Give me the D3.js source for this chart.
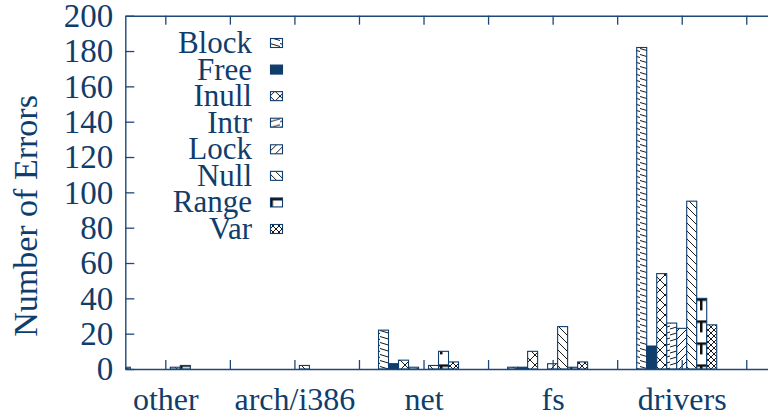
<!DOCTYPE html>
<html>
<head>
<meta charset="utf-8">
<script src="https://cdn.jsdelivr.net/npm/d3@7"></script>
<style>
  html, body { margin: 0; padding: 0; background: #fff; }
  svg { display: block; }
</style>
</head>
<body>
<svg id="chart" width="768" height="413"></svg>
<script>
// ---- data ----
const categories = ["other", "arch/i386", "net", "fs", "drivers"];
const seriesNames = ["Block", "Free", "Inull", "Intr", "Lock", "Null", "Range", "Var"];
const Block = [1, 0, 22, 1, 182];
const Free  = [0, 0, 3, 1, 13];
const Inull = [0, 0, 5, 10, 54];
const Intr  = [0, 0, 1, 0, 26];
const Lock  = [0, 0, 0, 3, 23];
const Null  = [1, 2, 2, 24, 95];
const Range = [2, 0, 10, 1, 40];
const Var   = [0, 0, 4, 4, 25];
const yTicks = [0, 20, 40, 60, 80, 100, 120, 140, 160, 180, 200];
const yTitle = "Number of Errors";

const seriesValues = { Block, Free, Inull, Intr, Lock, Null, Range, Var };

// ---- layout ----
const navy = "#0f3d6c";
const axisCol = "#1d4878";
const svg = d3.select("#chart");
const L = 125.3, T = 15.7, B = 369, R = 785;
const x = d3.scaleLinear().domain([-0.31, 4.8]).range([L, R]);
const xInner = d3.scaleBand().domain(seriesNames).range([-45, 35]);
const y = d3.scaleLinear().domain([0, 200]).range([B, T]);

// ---- patterns ----
const defs = svg.append("defs");
function pat(id, w, h, draw, extra) {
  const p = defs.append("pattern").attr("id", id)
    .attr("patternUnits", "userSpaceOnUse").attr("width", w).attr("height", h);
  if (extra) extra(p);
  p.append("rect").attr("width", w).attr("height", h).attr("fill", "#fff");
  draw(p);
}
const ln = (p, x1, y1, x2, y2, sw) => p.append("line")
  .attr("x1", x1).attr("y1", y1).attr("x2", x2).attr("y2", y2)
  .attr("stroke", "#1a1a1a").attr("stroke-width", sw || 1);

pat("p-Block", 10, 6, p => { ln(p, 0, 0.5, 10, 3.5); });
pat("p-Inull", 10, 10, p => { ln(p, 0, 0, 10, 10); ln(p, 0, 10, 10, 0); });
pat("p-Intr", 10, 6, p => { ln(p, 0, 5, 10, 2); });
pat("p-Lock", 8, 8, p => { ln(p, -1, 9, 9, -1); ln(p, -1, 1, 1, -1); ln(p, 7, 9, 9, 7); });
pat("p-Null", 8, 8, p => { ln(p, -1, -1, 9, 9); ln(p, 7, -1, 9, 1); ln(p, -1, 7, 1, 9); });
pat("p-Range", 10, 22, p => {
  p.append("rect").attr("x", 0).attr("y", 0).attr("width", 10).attr("height", 2.5).attr("fill", "#111");
  p.append("rect").attr("x", 0).attr("y", 0).attr("width", 2.5).attr("height", 12).attr("fill", "#111");
}, p => p.attr("patternTransform", "translate(0,298.4)"));
pat("p-Var", 6, 6, p => { ln(p, 0, 0, 6, 6); ln(p, 0, 6, 6, 0); });

// legend-only Range swatch (box with heavy top-left edges)
const pr = defs.append("pattern").attr("id", "p-Range-leg")
  .attr("patternUnits", "objectBoundingBox").attr("patternContentUnits", "objectBoundingBox")
  .attr("width", 1).attr("height", 1);
pr.append("rect").attr("width", 1).attr("height", 1).attr("fill", "#fff");
pr.append("rect").attr("width", 1).attr("height", 0.28).attr("fill", "#111");
pr.append("rect").attr("width", 0.2).attr("height", 1).attr("fill", "#111");

const fillFor = s => s === "Free" ? navy : `url(#p-${s})`;
const legFill = s => s === "Range" ? "url(#p-Range-leg)" : fillFor(s);

// ---- clip ----
defs.append("clipPath").attr("id", "plotclip")
  .append("rect").attr("x", L).attr("y", T).attr("width", R - L).attr("height", B - T);

// ---- bars ----
const barData = [];
categories.forEach((c, i) => {
  seriesNames.forEach(s => {
    barData.push({ i, s, v: seriesValues[s][i] });
  });
});
svg.append("g").attr("clip-path", "url(#plotclip)")
  .selectAll("rect").data(barData.filter(d => d.v > 0)).join("rect")
  .attr("x", d => x(d.i) + xInner(d.s))
  .attr("width", xInner.bandwidth())
  .attr("y", d => y(d.v))
  .attr("height", d => y(0) - y(d.v))
  .attr("fill", d => fillFor(d.s))
  .attr("stroke", navy).attr("stroke-width", 1.1);

// ---- axes ----
const halfTicks = d3.range(0, 4.51, 0.5);
const fontFam = "'Liberation Serif', 'Times New Roman', Times, serif";

const xAxis = d3.axisBottom(x).tickValues(halfTicks).tickSizeInner(-9).tickSizeOuter(0)
  .tickPadding(18).tickFormat(d => Number.isInteger(d) ? categories[d] : "");
const gx = svg.append("g").attr("transform", `translate(0,${B})`).call(xAxis);

const xTop = d3.axisTop(x).tickValues(halfTicks).tickSizeInner(-9).tickSizeOuter(0).tickFormat("");
const gt = svg.append("g").attr("transform", `translate(0,${T})`).call(xTop);

const yAxis = d3.axisLeft(y).tickValues(yTicks).tickSizeInner(-9).tickSizeOuter(0).tickPadding(12);
const gy = svg.append("g").attr("transform", `translate(${L},0)`).call(yAxis);

[gx, gt, gy].forEach(g => {
  g.attr("font-family", null);
  g.selectAll("path.domain").attr("stroke", axisCol).attr("stroke-width", 1.4);
  g.selectAll(".tick line").attr("stroke", axisCol).attr("stroke-width", 1.3);
  g.selectAll(".tick text").attr("fill", navy).style("font-family", fontFam);
});
gx.selectAll(".tick text").style("font-size", "32px");
gy.selectAll(".tick text").style("font-size", "33px").attr("dy", "0.33em");

// ---- y title ----
svg.append("text")
  .attr("transform", `translate(37,216) rotate(-90)`)
  .attr("text-anchor", "middle")
  .attr("fill", navy)
  .style("font-family", fontFam).style("font-size", "34px")
  .text(yTitle);

// ---- legend ----
const legendRow = d3.scaleLinear().domain([0, 7]).range([43, 229]);
const lg = svg.append("g").selectAll("g").data(seriesNames).join("g")
  .attr("transform", (d, k) => `translate(0,${legendRow(k)})`);
lg.append("text").attr("x", 252).attr("y", 10).attr("text-anchor", "end")
  .attr("fill", navy).style("font-family", fontFam).style("font-size", "31px")
  .text(d => d);
lg.append("rect").attr("x", 270.5).attr("y", -4.5).attr("width", 12).attr("height", 9)
  .attr("fill", d => legFill(d)).attr("stroke", navy).attr("stroke-width", 1.1);
</script>
</body>
</html>
